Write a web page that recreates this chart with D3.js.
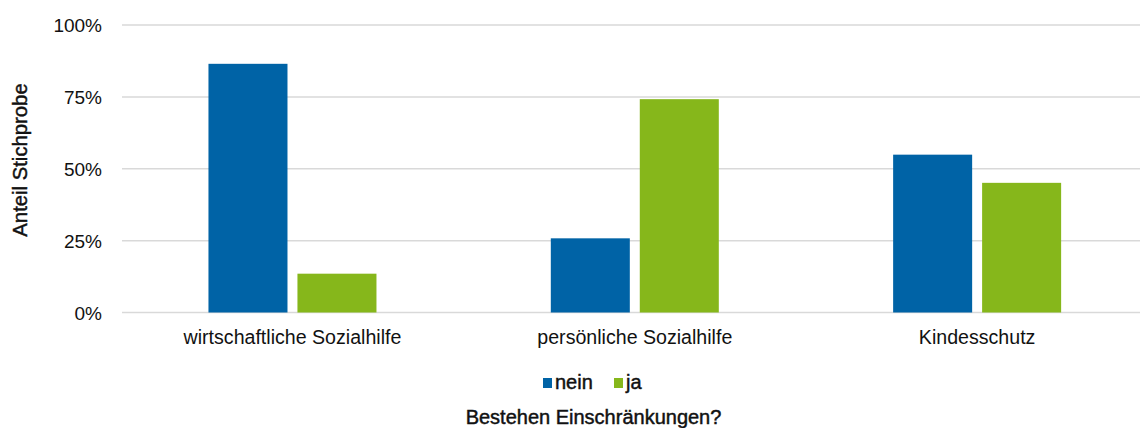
<!DOCTYPE html>
<html>
<head>
<meta charset="utf-8">
<script src="https://cdn.jsdelivr.net/npm/d3@7"></script>
<style>
  body { margin: 0; background: #fff; }
  text { font-family: "Liberation Sans", Arial, sans-serif; fill: #111; }
  .medium { stroke: #111; stroke-width: 0.45px; }
</style>
</head>
<body>
<div class="container__chart"></div>
<script>
// data
const categories = ["wirtschaftliche Sozialhilfe", "persönliche Sozialhilfe", "Kindesschutz"];
const seriesNames = ["nein", "ja"];
const neinValues = [0.865, 0.258, 0.549];
const jaValues = [0.135, 0.742, 0.451];
const tickValues = [0, 0.25, 0.5, 0.75, 1];

const WIDTH = 1140;
const HEIGHT = 428;
const COLORS = { nein: "#0063a6", ja: "#86b71b" };

const rows = categories.map((c, i) => ({ cat: c, nein: neinValues[i], ja: jaValues[i] }));

const svg = d3.select(".container__chart")
    .append("svg")
    .attr("width", WIDTH)
    .attr("height", HEIGHT)

// scales
const x0 = d3.scaleBand().domain(categories).range([121.3, 1148.3]).padding(0);
const GROUP_W = 168;
const x1 = d3.scaleBand().domain(seriesNames).range([0, GROUP_W]).paddingInner(0.112);
const y = d3.scaleLinear().domain([0, 1]).range([312.5, 25]);

// grid
svg.append("g")
    .selectAll("line")
    .data(tickValues)
    .enter()
    .append("line")
    .attr("x1", 122)
    .attr("x2", WIDTH)
    .attr("y1", d => y(d))
    .attr("y2", d => y(d))
    .attr("stroke", "#d9d9d9")
    .attr("stroke-width", 1.5)

// y axis labels
const yAxis = d3.axisLeft(y).tickValues(tickValues).tickFormat(d3.format(".0%")).tickSize(0).tickPadding(0);
svg.append("g")
    .attr("transform", "translate(102,0)")
    .call(yAxis)
    .call(g => g.select(".domain").remove())
    .selectAll("text")
    .attr("font-size", 19)
    .attr("font-family", "Liberation Sans, Arial, sans-serif")
    .attr("fill", "#111")
    .attr("dy", "0.35em")

// bars
const groups = svg.append("g")
    .selectAll("g")
    .data(rows)
    .enter()
    .append("g")
    .attr("transform", d => `translate(${x0(d.cat) + (x0.bandwidth() - GROUP_W) / 2},0)`)

groups.selectAll("rect")
    .data(d => seriesNames.map(s => ({ s, v: d[s] })))
    .enter()
    .append("rect")
    .attr("x", d => x1(d.s))
    .attr("width", x1.bandwidth())
    .attr("y", d => y(d.v))
    .attr("height", d => y(0) - y(d.v))
    .attr("fill", d => COLORS[d.s])

// x axis labels
const xAxis = d3.axisBottom(x0).tickSize(0).tickPadding(0);
svg.append("g")
    .attr("transform", "translate(0,330)")
    .call(xAxis)
    .call(g => g.select(".domain").remove())
    .selectAll("text")
    .attr("font-size", 19.6)
    .attr("font-family", "Liberation Sans, Arial, sans-serif")
    .attr("fill", "#111")
    .attr("dy", "0.72em")

// y title
svg.append("text")
    .attr("class", "medium")
    .attr("transform", "translate(27,160) rotate(-90)")
    .attr("text-anchor", "middle")
    .attr("font-size", 20.3)
    .text("Anteil Stichprobe")

// legend
const legend = svg.append("g").attr("transform", "translate(543,389)");
const legendX = { nein: 0, ja: 71 };
seriesNames.forEach(s => {
    const item = legend.append("g").attr("transform", `translate(${legendX[s]},0)`);
    item.append("rect")
        .attr("x", 0)
        .attr("y", -11)
        .attr("width", 9)
        .attr("height", 10)
        .attr("fill", COLORS[s])
    item.append("text")
        .attr("class", "medium")
        .attr("x", 12)
        .attr("y", 0)
        .attr("font-size", 20)
        .text(s)
})

// x title
svg.append("text")
    .attr("class", "medium")
    .attr("x", 593.5)
    .attr("y", 424)
    .attr("text-anchor", "middle")
    .attr("font-size", 20)
    .text("Bestehen Einschränkungen?")
</script>
</body>
</html>
